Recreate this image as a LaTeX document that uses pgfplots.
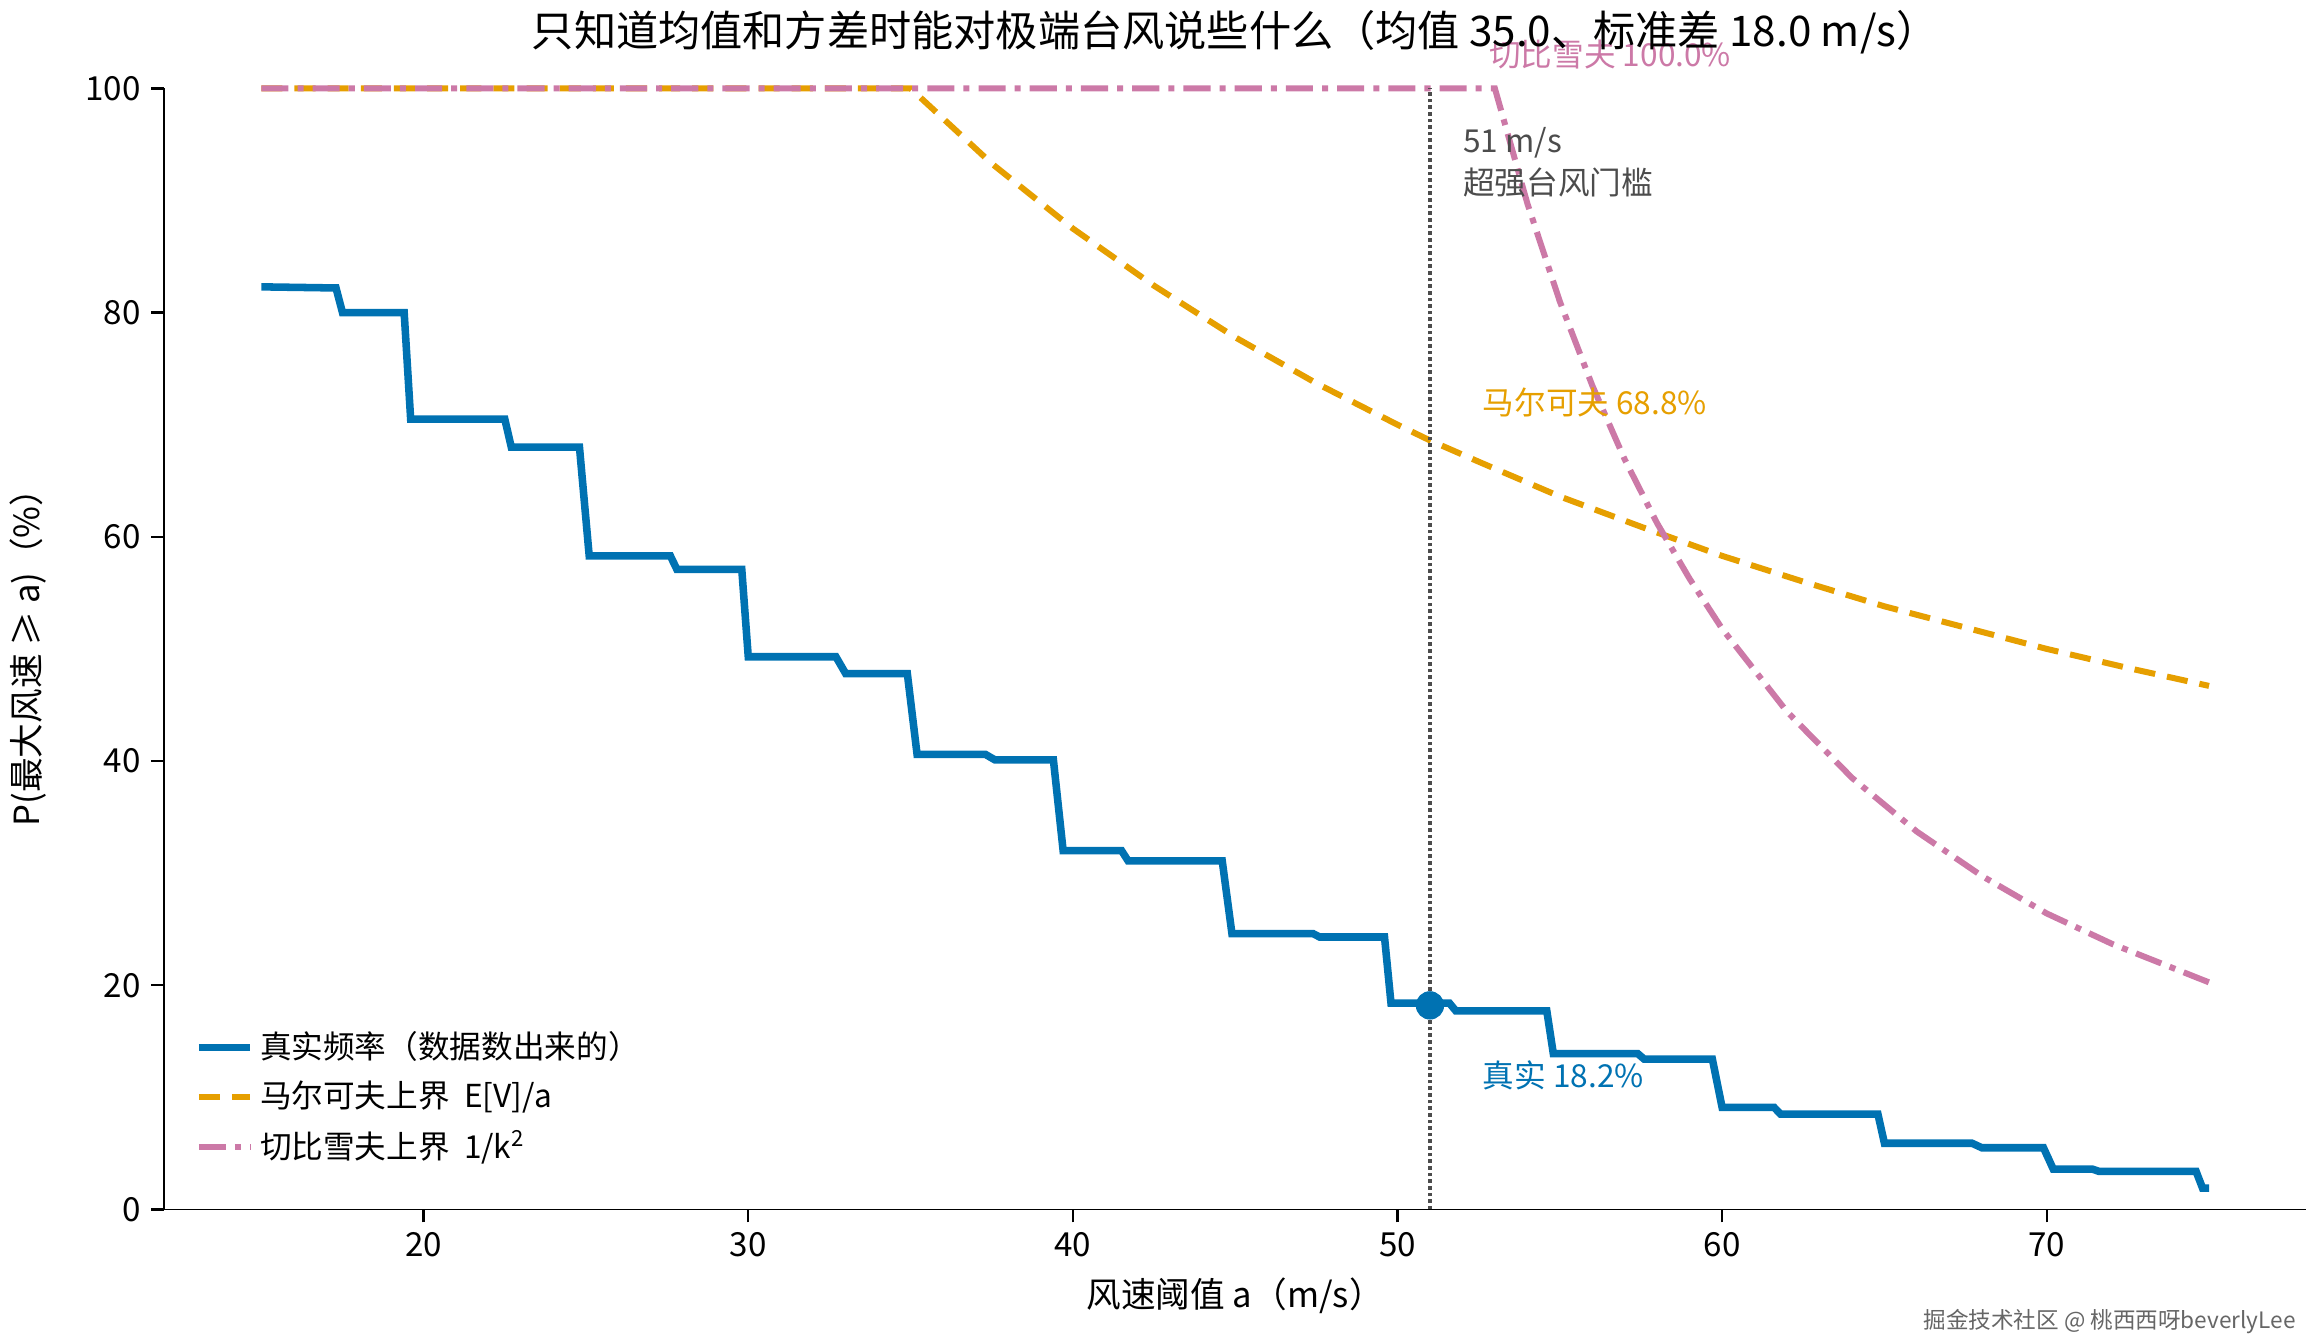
\documentclass[border=0pt]{standalone}
\usepackage{fontspec}
\setmainfont{Noto Sans CJK SC}
\usepackage{pgfplots}
\pgfplotsset{compat=1.18}
\definecolor{cb}{HTML}{0072B2}
\definecolor{co}{HTML}{E69F00}
\definecolor{cp}{HTML}{CC79A7}
\begin{document}
\begin{tikzpicture}
\begin{axis}[
  width=711pt, height=372pt, scale only axis,
  xmin=12, xmax=78, ymin=0, ymax=100,
  axis lines*=left, axis line style={-},
  tick align=outside, tick style={black,thick},
  xtick={20,30,...,70}, ytick={0,20,...,100},
  tick label style={font=\fontsize{11}{13}\selectfont},
  /pgf/number format/assume math mode=true,
  xlabel={风速阈值 a（m/s）}, ylabel={P(最大风速 ≥ a)（\%）},
  label style={font=\fontsize{11.5}{14}\selectfont},
  ylabel style={yshift=6pt},
  title={只知道均值和方差时能对极端台风说些什么（均值 35.0、标准差 18.0 m/s）},
  title style={font=\fontsize{14}{16}\selectfont, yshift=2pt},
  legend style={draw=none, fill=none, at={(0.01,0.03)}, anchor=south west, font=\fontsize{10.5}{13}\selectfont, row sep=2pt},
  legend cell align=left,
  clip=false,
]
\addplot[cb, line width=2.5pt] coordinates {
(15,82.3)(17.3,82.2)(17.5,80.0)(19.4,80.0)(19.6,70.5)(22.5,70.5)(22.7,68.0)(24.8,68.0)(25.1,58.3)(27.6,58.3)(27.8,57.1)(29.8,57.1)(30,49.3)(32.7,49.3)(33,47.8)(34.9,47.8)(35.2,40.6)(37.3,40.6)(37.6,40.1)(39.4,40.1)(39.7,32.0)(41.5,32.0)(41.7,31.1)(44.6,31.1)(44.9,24.6)(47.4,24.6)(47.6,24.3)(49.6,24.3)(49.8,18.4)(51.6,18.4)(51.8,17.7)(54.6,17.7)(54.8,13.9)(57.4,13.9)(57.6,13.4)(59.7,13.4)(60,9.1)(61.6,9.1)(61.8,8.5)(64.8,8.5)(65,5.9)(67.7,5.9)(68,5.5)(69.9,5.5)(70.2,3.6)(71.4,3.6)(71.6,3.4)(74.6,3.4)(74.8,1.9)(75,1.9)};
\addlegendentry{真实频率（数据数出来的）}
\addplot[co, line width=2pt, dash pattern=on 7pt off 4pt] coordinates {
(15,100)(35,100)(37.5,93.3)(40,87.5)(42.5,82.4)(45,77.8)(47.5,73.7)(50,70)(51,68.6)(52.5,66.7)(55,63.6)(57.5,60.9)(60,58.3)(62.5,56)(65,53.8)(67.5,51.9)(70,50)(72.5,48.3)(75,46.7)};
\addlegendentry{马尔可夫上界 \ \textit{E}[\textit{V}]/\textit{a}}
\addplot[cp, line width=2pt, dash pattern=on 9pt off 3pt on 2pt off 3pt] coordinates {
(15,100)(53,100)(54,89.75)(55,81)(56,73.5)(57,66.9)(58,61.2)(59,56.25)(60,51.8)(62,44.4)(64,38.5)(66,33.7)(68,29.75)(70,26.4)(72,23.7)(75,20.25)};
\addlegendentry{切比雪夫上界 \ 1/\textit{k}\textsuperscript{2}}
\addplot[black!70, densely dotted, line width=1.2pt, forget plot] coordinates {(51,0)(51,100)};
\addplot[cb, only marks, mark=*, mark size=4.5pt, forget plot] coordinates {(51,18.2)};
\node[anchor=north west, text=black!70, font=\fontsize{10.5}{14}\selectfont, align=left] at (axis cs:51.7,97.5) {51 m/s\\超强台风门槛};
\node[anchor=west, text=co, font=\fontsize{10.5}{13}\selectfont] at (axis cs:52.3,72) {马尔可夫 68.8\%};
\node[anchor=west, text=cb, font=\fontsize{10.5}{13}\selectfont] at (axis cs:52.3,12) {真实 18.2\%};
\node[anchor=west, text=cp, font=\fontsize{10.5}{13}\selectfont] at (axis cs:52.5,103) {切比雪夫 100.0\%};
\node[anchor=east, text=black!60, font=\fontsize{7.5}{9}\selectfont] at (axis cs:78,-10) {掘金技术社区 @ 桃西西呀beverlyLee};
\end{axis}
\end{tikzpicture}
\end{document}
